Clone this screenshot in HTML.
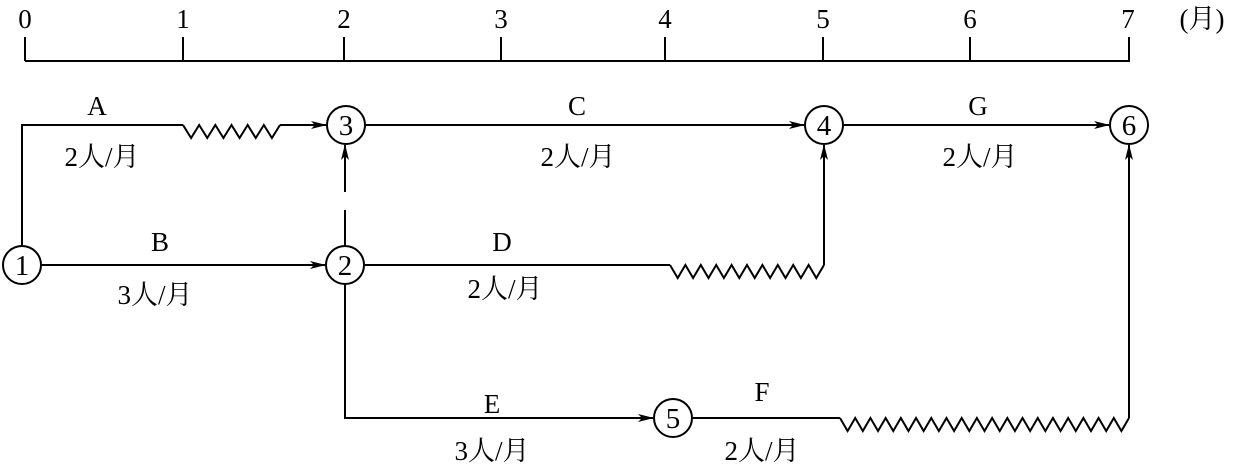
<!DOCTYPE html>
<html><head><meta charset="utf-8"><style>
html,body{margin:0;padding:0;background:#fff;}
svg{display:block;}
text{font-family:"Liberation Serif","Noto Serif CJK SC",serif;font-size:27px;fill:#000;text-anchor:middle;}
text.n{font-size:29px;}
</style></head><body>
<svg id="s" width="1233" height="464" viewBox="0 0 1233 464" xmlns="http://www.w3.org/2000/svg">
<defs><marker id="ar" markerWidth="16" markerHeight="10" refX="15" refY="5" orient="auto" markerUnits="userSpaceOnUse"><path d="M0,1 L16,5 L0,9 L4,5 Z" fill="#000"/></marker></defs>
<g stroke="#000" stroke-width="2" fill="none">
<line x1="25" y1="61" x2="1130" y2="61"/>
<line x1="25" y1="37" x2="25" y2="61"/><line x1="183" y1="37" x2="183" y2="61"/><line x1="344" y1="37" x2="344" y2="61"/><line x1="501" y1="37" x2="501" y2="61"/><line x1="665" y1="37" x2="665" y2="61"/><line x1="823" y1="37" x2="823" y2="61"/><line x1="970" y1="37" x2="970" y2="61"/><line x1="1129" y1="37" x2="1129" y2="61"/>
<circle cx="22" cy="265" r="19"/><circle cx="345" cy="265" r="19"/><circle cx="346" cy="125" r="19"/><circle cx="824" cy="125" r="19"/><circle cx="1129" cy="125" r="19"/><circle cx="673" cy="418" r="19"/>
<polyline points="22,246 22,125 183,125"/>
<path id="zA"/><line x1="280" y1="125" x2="326" y2="125" marker-end="url(#ar)"/>
<line x1="365" y1="125" x2="804" y2="125" marker-end="url(#ar)"/>
<line x1="843" y1="125" x2="1109" y2="125" marker-end="url(#ar)"/>
<line x1="41" y1="265" x2="325" y2="265" marker-end="url(#ar)"/>
<line x1="345" y1="246" x2="345" y2="210"/><line x1="345" y1="192" x2="345" y2="145" marker-end="url(#ar)"/>
<line x1="364" y1="265" x2="670" y2="265"/><path id="zD"/><line x1="824" y1="265" x2="824" y2="145" marker-end="url(#ar)"/>
<polyline points="345,284 345,418 653,418" marker-end="url(#ar)"/>
<line x1="692" y1="418" x2="840" y2="418"/><path id="zF"/><line x1="1129" y1="418" x2="1129" y2="145" marker-end="url(#ar)"/>
</g>
<g>
<text x="25" y="28">0</text><text x="183" y="28">1</text><text x="344" y="28">2</text><text x="501" y="28">3</text><text x="665" y="28">4</text><text x="823" y="28">5</text><text x="970" y="28">6</text><text x="1128" y="28">7</text><text x="1202" y="28">(月)</text>
<text class="n" x="22" y="275">1</text><text class="n" x="345" y="275">2</text><text class="n" x="346" y="135">3</text><text class="n" x="824" y="135">4</text><text class="n" x="1129" y="135">6</text><text class="n" x="673" y="428">5</text>
<text x="97" y="115">A</text><text x="102" y="166">2人/月</text>
<text x="577" y="115">C</text><text x="578" y="166">2人/月</text>
<text x="978" y="115">G</text><text x="980" y="166">2人/月</text>
<text x="160" y="251">B</text><text x="155" y="304">3人/月</text>
<text x="502" y="251">D</text><text x="505" y="298">2人/月</text>
<text x="492" y="413">E</text><text x="492" y="460">3人/月</text>
<text x="762" y="401">F</text><text x="762" y="460">2人/月</text>
</g>
</svg>
<script>
function zz(id,x1,x2,y){var n=Math.max(1,Math.round((x2-x1)/15)),w=(x2-x1)/n,d="M"+x1+","+y;for(var i=0;i<n;i++){d+=" L"+(x1+w*i+w/2)+","+(y+13)+" L"+(x1+w*(i+1))+","+y;}document.getElementById(id).setAttribute("d",d);}
zz("zA",183,280,125);zz("zD",670,824,265);zz("zF",840,1129,418);
</script>
</body></html>
